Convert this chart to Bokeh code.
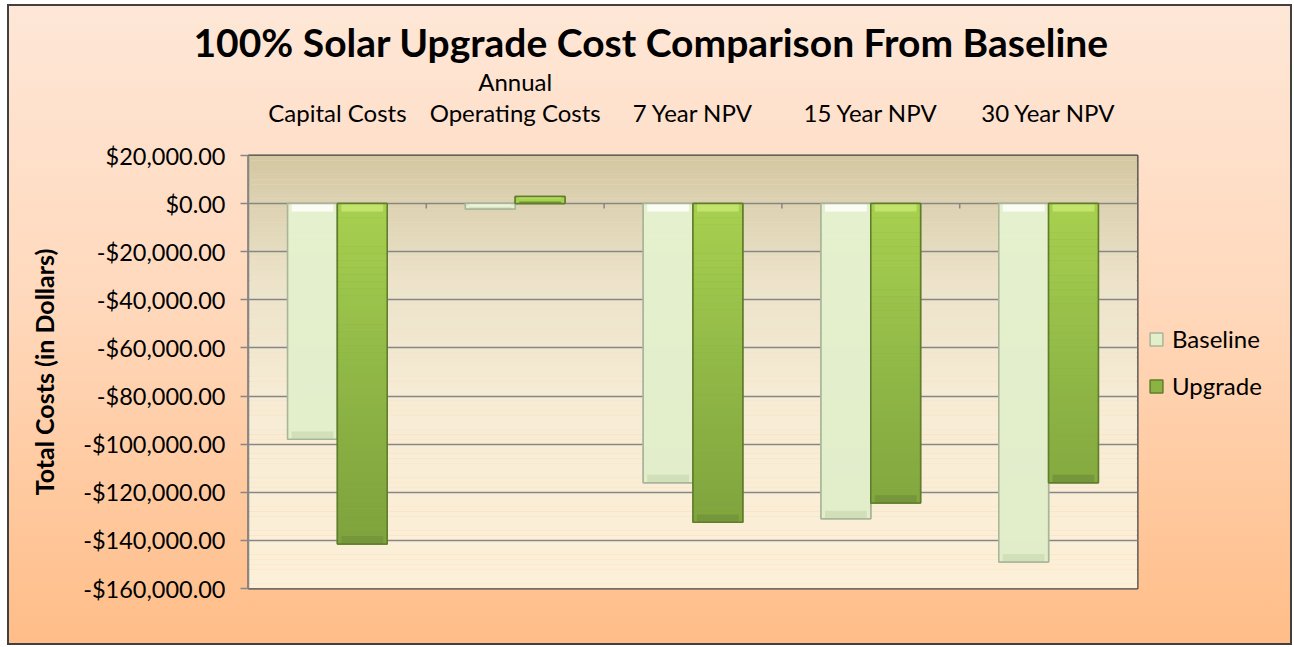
import math
from bokeh.plotting import figure
from bokeh.layouts import row
from bokeh.models import (FactorRange, Range1d, FixedTicker, CustomJSTickFormatter,
                          CategoricalAxis, Legend, LegendItem, BoxAnnotation, ColumnDataSource)
from bokeh.transform import dodge
from bokeh.embed import file_html
from bokeh.resources import INLINE

# ---------------- data ----------------
categories = ["Capital Costs", "Annual\nOperating Costs", "7 Year NPV", "15 Year NPV", "30 Year NPV"]
baseline = [-98000, -2200, -116000, -131000, -149000]
upgrade = [-141500, 3000, -132500, -124500, -116000]
series_names = ["Baseline", "Upgrade"]
y_ticks = [20000, 0, -20000, -40000, -60000, -80000, -100000, -120000, -140000, -160000]
title_text = "100% Solar Upgrade Cost Comparison From Baseline"
y_label = "Total Costs (in Dollars)"

FONT = "Lato"
BAR_W = 0.28
OFFS = [-0.14, 0.14]
TOTAL_H = 641

p = figure(frame_width=889, frame_height=433,
           x_range=FactorRange(*categories, range_padding=0),
           y_range=Range1d(min(y_ticks), max(y_ticks)),
           output_backend="svg", toolbar_location=None,
           x_axis_location=None,
           min_border_left=241, min_border_right=4,
           min_border_top=151, min_border_bottom=57)

p.border_fill_color = None
p.background_fill_color = None
p.outline_line_color = "#404040"
p.outline_line_width = 2


def hexc(c):
    return "#%02x%02x%02x" % tuple(int(round(x)) for x in c)


def interp(stops, t):
    t = max(0.0, min(1.0, t))
    for (t0, c0), (t1, c1) in zip(stops[:-1], stops[1:]):
        if t0 <= t <= t1:
            f = (t - t0) / (t1 - t0) if t1 > t0 else 0
            return hexc([a + (b - a) * f for a, b in zip(c0, c1)])
    return hexc(stops[-1][1])


# plot-area gradient (background strips)
bg_stops = [(0.0, (212, 199, 161)), (0.12, (221, 211, 179)), (0.30, (236, 227, 203)),
            (0.55, (246, 235, 212)), (1.0, (253, 240, 217))]
ymax, ymin = max(y_ticks), min(y_ticks)
n = 90
for i in range(n):
    t0, t1 = i / n, (i + 1) / n
    top = ymax - t0 * (ymax - ymin)
    bot = ymax - t1 * (ymax - ymin)
    p.add_layout(BoxAnnotation(top=top + 50, bottom=bot, fill_color=interp(bg_stops, (t0 + t1) / 2),
                               fill_alpha=1, line_color=None, level="image"))

# grid
p.xgrid.grid_line_color = None
p.ygrid.grid_line_color = "#868686"
p.ygrid.grid_line_width = 1.5
p.ygrid.ticker = FixedTicker(ticks=y_ticks)

# y axis
yax = p.yaxis[0]
yax.ticker = FixedTicker(ticks=y_ticks)
yax.formatter = CustomJSTickFormatter(code="""
const s = Math.abs(tick).toLocaleString('en-US', {minimumFractionDigits: 2, maximumFractionDigits: 2});
return (tick < 0 ? '-' : '') + '$' + s;
""")
yax.axis_line_color = "#868686"
yax.axis_line_width = 1.5
yax.major_tick_line_color = "#868686"
yax.major_tick_line_width = 1.5
yax.major_tick_out = 8
yax.major_tick_in = 0
yax.minor_tick_line_color = None
yax.major_label_text_font = FONT
yax.major_label_text_font_size = "23.5px"
yax.major_label_text_color = "#000000"
yax.major_label_standoff = 15
yax.axis_label = y_label
yax.axis_label_text_font = FONT
yax.axis_label_text_font_style = "bold"
yax.axis_label_text_font_size = "25px"
yax.axis_label_text_color = "#000000"
yax.axis_label_standoff = 21

# category axis on top
xax = CategoricalAxis(axis_line_color=None, major_tick_line_color=None,
                      minor_tick_line_color=None, major_label_text_font=FONT,
                      major_label_text_font_size="24px", major_label_text_color="#000000",
                      major_label_standoff=23, major_label_text_line_height=1.05)
p.add_layout(xax, "above")

# title
p.title.text = title_text
p.title.text_font = FONT
p.title.text_font_style = "bold"
p.title.text_font_size = "39px"
p.title.text_color = "#000000"
p.title.align = "left"
p.title.offset = -55
p.title.standoff = 0
p.title.text_line_height = 0.5

# ---------------- bars ----------------
src = ColumnDataSource(dict(cat=categories, baseline=baseline, upgrade=upgrade))
styles = [
    dict(fill="#e3efcb", line="#a9b59a", grad=[(0.0, (229, 240, 206)), (1.0, (225, 237, 201))],
         hi="#fbfdf5", lo="#d2e0ba"),
    dict(fill="#8db244", line="#5f7d2b", grad=[(0.0, (167, 209, 80)), (0.5, (141, 180, 69)), (1.0, (122, 156, 58))],
         hi="#c2e46a", lo="#75963a"),
]
for s, (name, vals) in enumerate(zip(series_names, [baseline, upgrade])):
    st = styles[s]
    xd = dodge("cat", OFFS[s], range=p.x_range)
    p.vbar(x=xd, top=name.lower(), width=BAR_W, source=src,
           fill_color=st["fill"], line_color=st["line"], line_width=1.5)
    seg = dict(cat=[], top=[], bottom=[], color=[])
    band = dict(cat=[], top=[], bottom=[], color=[])
    for c, v in zip(categories, vals):
        lower, upper = min(0, v), max(0, v)
        k = max(1, math.ceil((upper - lower) / 3000))
        step = (upper - lower) / k
        for j in range(k):
            t = upper - j * step
            b = t - step
            seg["cat"].append(c)
            seg["top"].append(t)
            seg["bottom"].append(b)
            seg["color"].append(interp(st["grad"], ((t + b) / 2) / ymin))
        h = min(0.3 * (upper - lower), 3300)
        band["cat"] += [c, c]
        band["top"] += [upper, lower + h]
        band["bottom"] += [upper - h, lower]
        band["color"] += [st["hi"], st["lo"]]
    p.vbar(x=xd, top="top", bottom="bottom", width=BAR_W, source=ColumnDataSource(seg),
           fill_color="color", line_color=None)
    p.vbar(x=xd, top="top", bottom="bottom", width=BAR_W * 0.84, source=ColumnDataSource(band),
           fill_color="color", line_color=None)
    p.vbar(x=xd, top=name.lower(), width=BAR_W, source=src,
           fill_color=None, line_color=st["line"], line_width=1.5)

# category-boundary ticks on the zero line
tick_src = ColumnDataSource(dict(cat=categories[1:], y0=[0] * (len(categories) - 1),
                                 y1=[-2000] * (len(categories) - 1)))
p.segment(x0=dodge("cat", -0.5, range=p.x_range), x1=dodge("cat", -0.5, range=p.x_range),
          y0="y0", y1="y1", source=tick_src, line_color="#868686", line_width=1.5)

# ---------------- legend (separate transparent panel on the right) ----------------
lg = figure(width=151, height=TOTAL_H, output_backend="svg", toolbar_location=None,
            x_axis_location=None, y_axis_location=None,
            x_range=Range1d(0, 1), y_range=Range1d(0, 1),
            min_border=0, min_border_left=0, min_border_right=0,
            min_border_top=0, min_border_bottom=0)
lg.border_fill_color = None
lg.background_fill_color = None
lg.outline_line_color = None
lg.grid.visible = False
nan = float("nan")
items = []
for s, name in enumerate(series_names):
    st = styles[s]
    rr = lg.vbar(x=[nan], top=[nan], width=0.1, fill_color=st["fill"], line_color=st["line"], line_width=1.5)
    items.append(LegendItem(label=name, renderers=[rr]))
legend = Legend(items=items, location=(7, 188), background_fill_alpha=0, border_line_color=None,
                label_text_font=FONT, label_text_font_size="24px", label_text_color="#000000",
                glyph_width=16, glyph_height=16, spacing=18, padding=6, margin=0,
                label_standoff=8)
lg.add_layout(legend)

layout = row(p, lg, spacing=0)
layout.styles = {"background": "linear-gradient(to bottom, #fee7d7 0%, #ffd9bd 45%, #ffbd88 100%)",
                 "outline": "2px solid #404040", "outline-offset": "-2px",
                 "margin-left": "7px", "margin-top": "4px"}

open("out.html", "w").write(file_html(layout, INLINE))
